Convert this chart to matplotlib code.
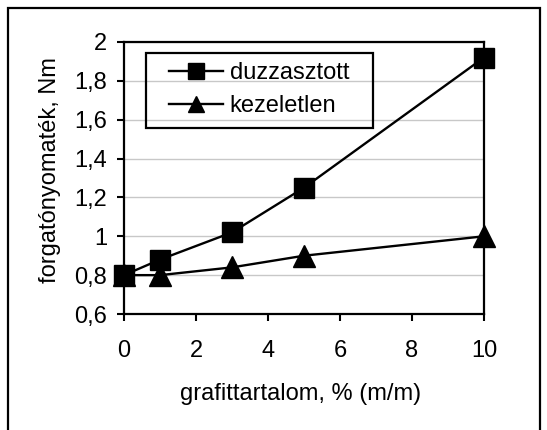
import matplotlib
matplotlib.use('Agg')
import matplotlib.pyplot as plt
from matplotlib.patches import Rectangle
from matplotlib.ticker import FuncFormatter

plt.rcParams['font.family'] = ['Liberation Sans', 'DejaVu Sans']

# graphite content, % (m/m)
x_vals = [0, 1, 3, 5, 10]
# torque, Nm
duzzasztott = [0.80, 0.88, 1.02, 1.25, 1.92]
kezeletlen = [0.80, 0.80, 0.84, 0.90, 1.00]

x_ticks = [0, 2, 4, 6, 8, 10]
y_ticks = [0.6, 0.8, 1.0, 1.2, 1.4, 1.6, 1.8, 2.0]

FS = 17
W, H = 547, 430
fig = plt.figure(figsize=(W / 100, H / 100), dpi=100)
ax = fig.add_axes([124 / W, 1 - 314 / H, (484 - 124) / W, (314 - 42) / H])

ax.plot(x_vals, duzzasztott, 'k-s', lw=1.7, markersize=15,
        label='duzzasztott', clip_on=False, zorder=3)
ax.plot(x_vals, kezeletlen, 'k-^', lw=1.7, markersize=15.5,
        label='kezeletlen', clip_on=False, zorder=3)

ax.set_xlim(0, 10)
ax.set_ylim(0.6, 2.0)
ax.set_xticks(x_ticks)
ax.set_yticks(y_ticks)
ax.yaxis.set_major_formatter(FuncFormatter(lambda v, p: f'{v:g}'.replace('.', ',')))

ax.grid(True, axis='y', color='#c8c8c8', lw=1.0)
ax.set_axisbelow(True)
for s in ax.spines.values():
    s.set_linewidth(1.6)
ax.tick_params(axis='both', direction='out', length=5, width=1.5,
               labelsize=FS, colors='black')
ax.tick_params(axis='x', pad=14)
ax.tick_params(axis='y', pad=7)

ax.set_xlabel('grafittartalom, % (m/m)', fontsize=FS)
ax.set_ylabel('forgatónyomaték, Nm', fontsize=FS)
ax.xaxis.set_label_coords(0.49, -0.254)
ax.yaxis.set_label_coords(-0.175, 0.53)

# legend without its own frame, box drawn separately
leg = ax.legend(loc='center left', bbox_to_anchor=(169 / W, 1 - 89.7 / H),
                bbox_transform=fig.transFigure, borderaxespad=0, borderpad=0,
                fontsize=FS, frameon=False, markerscale=0.75,
                handlelength=2.27, handletextpad=0.3, labelspacing=0.45)
fig.patches.append(Rectangle((146 / W, 1 - 128 / H), (373 - 146) / W, (128 - 53) / H,
                             transform=fig.transFigure, fill=False,
                             edgecolor='black', lw=1.6, zorder=4))

# outer frame around the chart
fig.patches.append(Rectangle((8 / W, -0.1), (540 - 8) / W, 1.1 - 8 / H,
                             transform=fig.transFigure, fill=False,
                             edgecolor='black', lw=1.6))

fig.savefig('out.png', dpi=100)
